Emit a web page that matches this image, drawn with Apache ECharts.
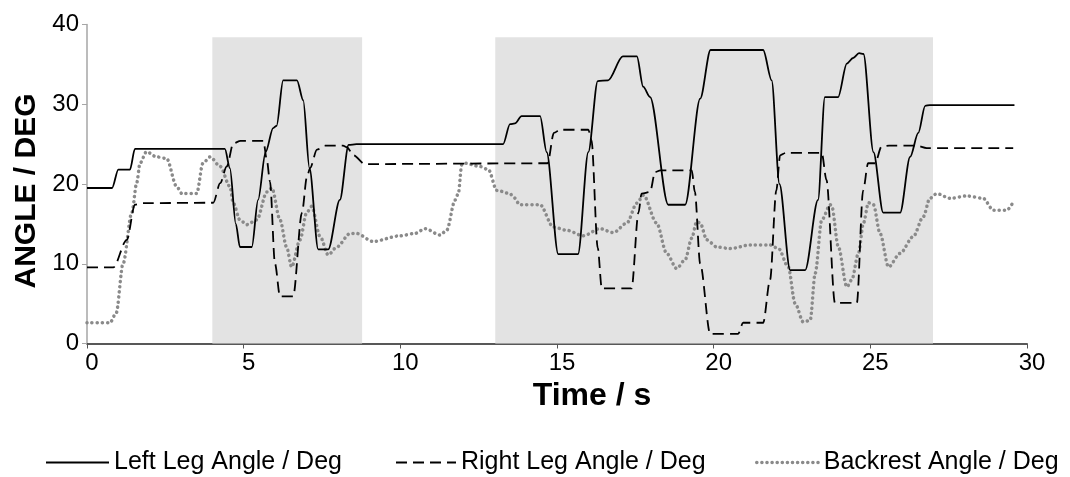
<!DOCTYPE html>
<html>
<head>
<meta charset="utf-8">
<script src="https://cdn.jsdelivr.net/npm/echarts@6/dist/echarts.min.js"></script>
<style>
html,body{margin:0;padding:0;background:#fff;}
#chart{width:1070px;height:477px;}
</style>
</head>
<body>
<div id="chart"></div>
<script>
// ---- data ----
const seriesNames = ['Left Leg Angle / Deg', 'Right Leg Angle / Deg', 'Backrest Angle / Deg'];
const xTicks = [0, 5, 10, 15, 20, 25, 30];
const yTicks = [0, 10, 20, 30, 40];
const shadeRanges = [[4.0, 8.78], [13.03, 27.0]];
const shadeTop = 38.4;

const leftLegT = [0,0.8,1.0,1.37,1.53,4.4,4.56,4.75,4.88,5.26,5.46,5.7,5.94,6.05,6.26,6.7,6.9,7.1,7.38,7.7,8.07,8.35,8.6,13.28,13.5,13.66,13.87,14.46,14.67,15.04,15.67,16.0,16.3,16.63,17.1,17.55,17.75,17.97,18.55,19.09,19.57,19.9,21.58,21.85,22.1,22.44,22.92,23.33,23.55,23.97,24.25,24.45,24.64,24.78,25.1,25.41,25.95,26.27,26.53,26.75,26.9,29.6];
const leftLegDeg = [19.5,19.5,21.8,21.8,24.4,24.4,22,15,12.1,12.1,18,24,27,27.3,33,33,30.5,22,11.8,11.8,18,24.9,25,25,27.5,27.6,28.5,28.5,24,11.2,11.2,24,32.9,33,36,36,32.2,30.9,17.4,17.4,30.7,36.8,36.8,33,20,9.2,9.2,18,30.9,30.9,35.1,35.8,36.4,36.3,24,16.4,16.4,23.4,26.4,29.8,29.9,29.9];

const rightLegT = [0,0.84,1.27,1.53,1.8,4.03,4.25,4.46,4.67,4.9,5.63,5.74,5.84,6.0,6.16,6.58,6.86,7.02,7.12,7.34,7.6,8.17,8.3,8.5,8.87,14.7,14.9,15.1,16.0,16.1,16.3,16.43,17.38,17.6,17.7,17.97,18.13,18.3,19.3,19.4,19.57,19.89,20.78,20.94,21.58,21.8,22.0,22.12,22.3,23.45,23.6,23.87,24.57,24.77,24.93,25.15,25.36,25.6,26.48,26.8,29.56];
const rightLegDeg = [9.55,9.55,13,17.4,17.6,17.65,20.1,22.2,25.1,25.4,25.4,23,20.3,10,5.9,5.9,16.4,20.9,22,24.3,24.8,24.8,24.6,23.6,22.5,22.6,26.4,26.8,26.8,25.5,12,6.9,6.9,16.4,18.8,19,21.5,21.7,21.7,19,10,1.2,1.2,2.6,2.6,8,19.2,23.6,23.9,23.9,20.5,5.1,5.1,19.2,22.6,22.6,24.7,24.8,24.8,24.5,24.5];

const backrestT = [0,0.73,0.93,1.15,1.43,1.59,1.69,1.9,2.22,2.54,2.86,3.03,3.5,3.7,3.93,4.25,4.56,4.67,4.88,5.1,5.42,5.74,5.9,6.16,6.37,6.53,6.8,7.01,7.17,7.44,7.7,7.97,8.4,8.6,9.13,9.99,10.47,10.79,11.27,11.48,11.75,11.85,11.96,12.07,12.54,12.81,13.08,13.5,13.6,13.82,14.46,14.88,15.31,15.84,16.37,16.8,17.23,17.55,17.76,18.18,18.5,18.82,19.09,19.3,19.46,19.57,19.78,20.1,20.52,21.16,21.8,22.07,22.38,22.6,22.86,23.08,23.24,23.45,23.72,23.77,23.98,24.25,24.41,24.62,24.78,24.94,25.1,25.31,25.58,25.95,26.37,26.69,26.9,27.12,27.55,28.08,28.6,28.93,29.35,29.57];
const backrestDeg = [2.6,2.6,3.8,10,16.4,20.2,22.6,24.05,23.4,23.2,19.7,18.8,18.8,22.6,23.4,22.2,19.7,17.6,15.5,14.9,15.5,19,19.5,15.5,12.1,9.6,13,16.4,17.2,13.4,11.1,12.1,13.8,13.8,12.8,13.5,13.8,14.4,13.6,14.2,18,18.8,22.4,22.6,22.2,21.8,19.2,18.8,18.4,17.4,17.4,14.6,14.2,13.5,14.4,13.9,15.1,17.6,18.6,15.1,11.3,9.4,10.5,13.2,15.3,15.1,13,12.1,11.9,12.35,12.35,11.9,9.6,5.0,2.7,2.9,8.8,15.5,17.4,17.2,12.1,7.1,8,11.3,15.1,17.65,17.4,13.8,9.6,11.3,13.4,15.9,18.2,18.8,18.2,18.5,18.2,16.7,16.7,17.8];

function pairs(t, v) { return t.map((x, i) => [x, v[i]]); }

const FONT = "'Liberation Sans', Arial, sans-serif";

const chart = echarts.init(document.getElementById('chart'), null, {renderer: 'canvas'});

const legendCommon = {
  top: 445, itemHeight: 14, itemGap: 4,
  itemStyle: {opacity: 0},
  textStyle: {fontFamily: FONT, fontSize: 25, color: '#000'}
};

chart.setOption({
  animation: false,
  backgroundColor: '#fff',
  grid: {left: 87, right: 43, top: 24.5, bottom: 133.5, containLabel: false},
  xAxis: {
    type: 'value', min: xTicks[0], max: xTicks[xTicks.length - 1], interval: 5,
    name: 'Time / s', nameLocation: 'middle', nameGap: 36,
    nameTextStyle: {fontFamily: FONT, fontWeight: 'bold', fontSize: 32, color: '#000', padding: [0, 0, 0, 70]},
    axisLine: {show: true, onZero: false, lineStyle: {color: '#222', width: 1.5}},
    axisTick: {show: true, inside: false, length: 5, lineStyle: {color: '#555'}},
    axisLabel: {fontFamily: FONT, fontSize: 24, color: '#000', margin: 8, padding: [0, 0, 0, 10]},
    splitLine: {show: false}
  },
  yAxis: {
    type: 'value', min: yTicks[0], max: yTicks[yTicks.length - 1], interval: 10,
    name: 'ANGLE / DEG', nameLocation: 'middle', nameGap: 38,
    nameTextStyle: {fontFamily: FONT, fontWeight: 'bold', fontSize: 30, color: '#000', padding: [0, 14, 0, 0]},
    axisLine: {show: true, lineStyle: {color: '#a6a6a6', width: 1.5}},
    axisTick: {show: true, inside: false, length: 5, lineStyle: {color: '#a6a6a6'}},
    axisLabel: {fontFamily: FONT, fontSize: 24, color: '#000', margin: 8},
    splitLine: {show: false}
  },
  legend: [
    Object.assign({}, legendCommon, {left: 40, itemWidth: 63, lineStyle: {width: 2}, data: [seriesNames[0]]}),
    Object.assign({}, legendCommon, {left: 390, itemWidth: 60, lineStyle: {width: 2}, data: [seriesNames[1]]}),
    Object.assign({}, legendCommon, {left: 750, itemWidth: 62, lineStyle: {width: 3.5}, data: [seriesNames[2]]})
  ],
  series: [
    {
      name: 'shade', type: 'line', data: [], z: 0, silent: true,
      markArea: {
        silent: true,
        itemStyle: {color: '#e3e3e3', opacity: 1},
        data: shadeRanges.map(r => [{xAxis: r[0], yAxis: 0}, {xAxis: r[1], yAxis: shadeTop}])
      }
    },
    {
      name: seriesNames[2], type: 'line', z: 3, showSymbol: false, symbol: 'none',
      smooth: 0.3, smoothMonotone: 'x',
      lineStyle: {color: '#8a8a8a', width: 3.5, type: [0.1, 5], cap: 'round'},
      itemStyle: {color: '#8a8a8a'},
      data: pairs(backrestT, backrestDeg)
    },
    {
      name: seriesNames[1], type: 'line', z: 4, showSymbol: false, symbol: 'none',
      smooth: 0.3, smoothMonotone: 'x',
      lineStyle: {color: '#000', width: 1.8, type: [11, 6]},
      itemStyle: {color: '#000'},
      data: pairs(rightLegT, rightLegDeg)
    },
    {
      name: seriesNames[0], type: 'line', z: 5, showSymbol: false, symbol: 'none',
      smooth: 0.3, smoothMonotone: 'x',
      lineStyle: {color: '#000', width: 1.8},
      itemStyle: {color: '#000'},
      data: pairs(leftLegT, leftLegDeg)
    }
  ]
});
</script>
</body>
</html>
